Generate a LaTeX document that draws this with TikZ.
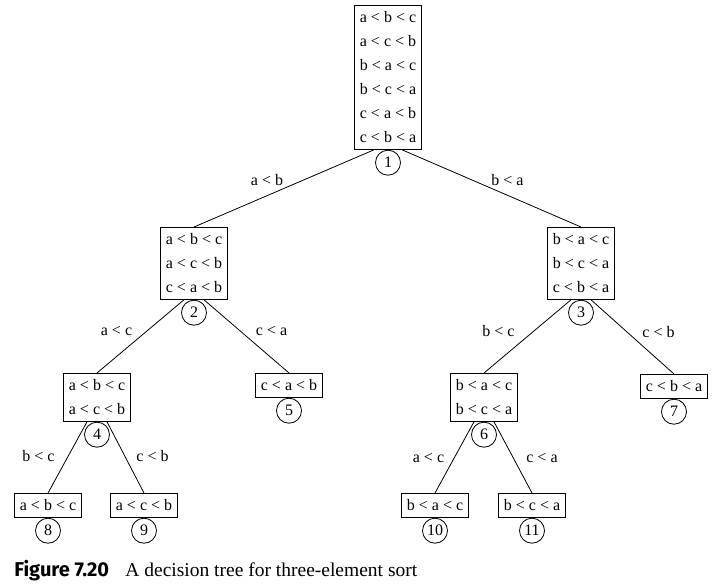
\documentclass[tikz,border=0pt]{standalone}
\usepackage{fontspec}
\setmainfont{Liberation Serif}
\newfontfamily\figfont{Fira Sans}
\usetikzlibrary{positioning}
\newcommand{\orders}[1]{\begin{tabular}{@{}c@{}}#1\end{tabular}}
\begin{document}
\begin{tikzpicture}[x=1pt, y=-1pt, line width=.8pt,
        perm/.style={draw, anchor=north, inner xsep=5pt, inner ysep=0pt, font=\fontsize{16}{24}\selectfont},
        num/.style={draw, circle, inner sep=0pt, minimum size=25pt, font=\fontsize{16}{18}\selectfont},
        cmp/.style={font=\fontsize{16}{18}\selectfont, inner sep=0pt}]
        \useasboundingbox (0,0) rectangle (715,588);

        % orders left after each comparison
        \node[perm] (p1) at (388,5) {\orders{a < b < c\\a < c < b\\b < a < c\\b < c < a\\c < a < b\\c < b < a}};
        \node[perm] (p2) at (194,227) {\orders{a < b < c\\a < c < b\\c < a < b}};
        \node[perm] (p3) at (581,227) {\orders{b < a < c\\b < c < a\\c < b < a}};
        \node[perm] (p4) at (97,373) {\orders{a < b < c\\a < c < b}};
        \node[perm] (p5) at (289,373) {\orders{c < a < b}};
        \node[perm] (p6) at (484,373) {\orders{b < a < c\\b < c < a}};
        \node[perm] (p7) at (674,374) {\orders{c < b < a}};
        \node[perm] (p8) at (48,493) {\orders{a < b < c}};
        \node[perm] (p9) at (144,493) {\orders{a < c < b}};
        \node[perm] (p10) at (435,493) {\orders{b < a < c}};
        \node[perm] (p11) at (532,493) {\orders{b < c < a}};

        % numbers under the boxes
        \foreach \k in {1,...,11} \node[num, below=0pt of p\k] (n\k) {\k};

        % comparisons
        \foreach \u/\v/\d/\t/\dx/\dy in {1/2/-14/a < b/-17/8, 1/3/14/b < a/16/8,
                2/4/-10/a < c/-24/5, 2/5/10/c < a/25/5,
                3/6/-10/b < c/-29/5, 3/7/10/c < b/26/5,
                4/8/-10/b < c/-29/1, 4/9/10/c < b/27/1,
                6/10/-10/a < c/-26/-1, 6/11/10/c < a/29/-1}
            \draw ([xshift=\d pt]p\u.south) -- (p\v.north) node[cmp, midway, xshift=\dx pt, yshift=\dy pt] {\t};

        % caption
        \node[anchor=base west, inner sep=0pt, font=\figfont\bfseries\fontsize{20}{22}\selectfont] (fig) at (14,576) {Figure 7.20};
        \node[anchor=base west, inner sep=0pt, font=\fontsize{19.5}{22}\selectfont] (cap) at (125,576) {A decision tree for three-element sort};
    \end{tikzpicture}
\end{document}
